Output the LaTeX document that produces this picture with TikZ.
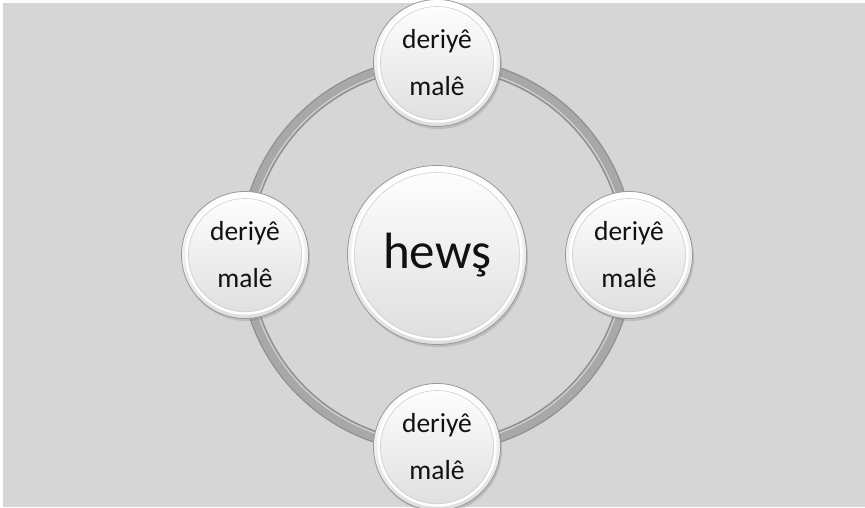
\documentclass[tikz,border=0pt]{standalone}
\usepackage{fontspec}
\setmainfont{Carlito}
\usepackage{xcolor}
\usepackage{tikz}
\usetikzlibrary{calc,shadows}
\definecolor{bgc}{HTML}{D6D6D6}
\definecolor{ringc}{HTML}{A8A8A8}
\definecolor{ringd}{HTML}{8E8E8E}
\definecolor{rimc}{HTML}{989898}
\definecolor{bubc}{HTML}{DEDEDE}
\definecolor{txtc}{HTML}{111111}
\tikzset{
  bubble/.style={circle,inner sep=0pt,minimum size=#1,top color=white,bottom color=bubc,
    draw=rimc,line width=0.8pt,align=center,text=txtc,
    drop shadow={shadow xshift=1.5pt,shadow yshift=-2.5pt,opacity=0.3},
    path picture={\draw[white,line width=2.4pt] (path picture bounding box.center) circle ({#1/2-5pt});
      \draw[gray!35,line width=0.6pt] (path picture bounding box.center) circle ({#1/2-7pt});}},
  sat/.style={bubble=127pt,font=\fontsize{27.5}{47}\selectfont},
  hub/.style={bubble=179pt,font=\fontsize{51}{60}\selectfont}
}

\begin{document}
\begin{tikzpicture}[x=1pt,y=-1pt]
\useasboundingbox (0,0) rectangle (865,507);
\fill[white] (0,0) rectangle (865,507);
\fill[bgc] (3,3) rectangle (865,507);
\coordinate (c) at (437,255);
% ring behind the bubbles
\draw[ringd,line width=12pt] (c) circle (192);
\draw[ringc,line width=9.5pt] (c) circle (192);
\draw[white!60!ringc,line width=0.8pt] (c) circle (188.5);
\node[hub] (hews) at (c) {hewş};
\foreach \n/\a in {top/90,right/0,bot/270,left/180}{
 \node[sat] (\n) at ($(c)+(\a:192 and -192)$) {deriyê\\malê};}
\end{tikzpicture}
\end{document}
